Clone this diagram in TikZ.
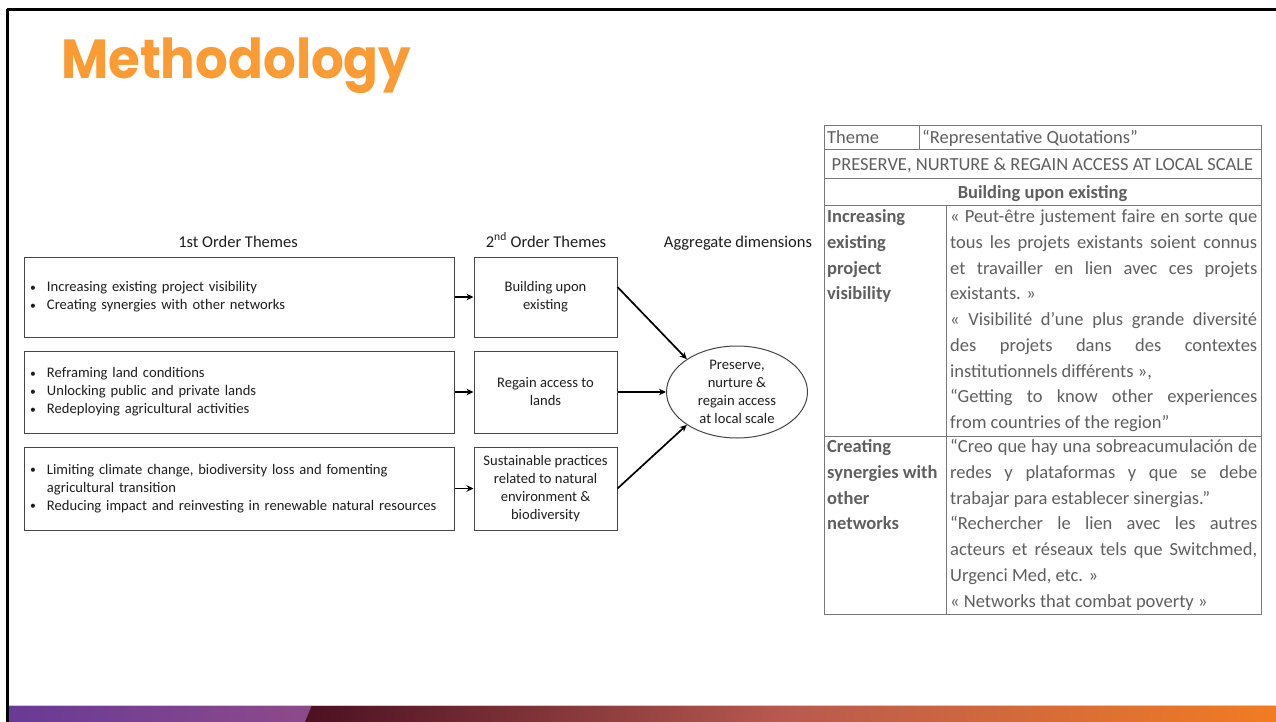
\documentclass[tikz,border=0pt]{standalone}
\usepackage{fontspec}
\setmainfont{Carlito}
\newfontfamily\titlefont{Poppins}
\usetikzlibrary{shapes.geometric,arrows.meta}
\definecolor{titleorange}{RGB}{250,155,52}
\definecolor{diagtext}{RGB}{30,30,30}
\definecolor{boxline}{RGB}{70,70,70}
\definecolor{tabtext}{RGB}{95,95,95}
\definecolor{tabline}{RGB}{120,120,120}
\definecolor{barpurpleA}{RGB}{104,58,150}
\definecolor{barpurpleB}{RGB}{142,74,138}
\definecolor{bardark}{RGB}{75,16,34}
\definecolor{barmid}{RGB}{185,90,80}
\definecolor{barorange}{RGB}{242,124,34}
\newcommand{\jline}[1]{\makebox[307pt][s]{#1}}
\newcommand{\bul}{\makebox[17pt][l]{\raisebox{0.5pt}{\scalebox{0.8}{\textbullet}}}}
\begin{document}
\begin{tikzpicture}[x=1pt,y=-1pt,
  box/.style={draw=boxline,line width=1pt,inner sep=0pt,text=diagtext,
    font=\fontsize{14.6}{18}\selectfont},
  leftbox/.style={box,minimum width=430,text width=418,inner xsep=6pt,align=left},
  midbox/.style={box,minimum width=143,align=center},
  header/.style={text=diagtext,font=\fontsize{16.5}{18}\selectfont,anchor=base,inner sep=0pt},
  arr/.style={line width=1.7pt,draw=black,-{Stealth[length=7pt,width=6.5pt]}},
  tab/.style={text=tabtext,font=\fontsize{18.5}{22}\selectfont,inner sep=0pt,anchor=base west},
  tabb/.style={tab,font=\fontsize{18.5}{22}\selectfont\bfseries},
  tabrule/.style={draw=tabline,line width=1pt}]
\useasboundingbox (0,0) rectangle (1276,722);
\fill[white] (0,0) rectangle (1276,722);

% frame
\draw[line width=2.5pt,black] (6.5,9.5) -- (1276,9.5);
\draw[line width=3pt,black] (7.5,9) -- (7.5,722);

% bottom bar
\fill[left color=barpurpleA,right color=barpurpleB] (9,705) -- (312,705) -- (305,722) -- (9,722) -- cycle;
\shade[left color=bardark,right color=barorange,middle color=barmid] (312,705) -- (1276,705) -- (1276,722) -- (305,722) -- cycle;
\draw[line width=0.8pt,color={rgb,255:red,225;green,195;blue,200}] (9,705) -- (1276,705);

% title
\node[anchor=base west,inner sep=0pt,text=titleorange,font=\titlefont\bfseries\fontsize{55}{60}\selectfont] (title) at (61,79) {\scalebox{0.935}[1]{Methodology}};

% headers
\node[header] (h1) at (238,247) {1st Order Themes};
\node[header] (h2) at (546,247) {2\textsuperscript{nd} Order Themes};
\node[header] (h3) at (738,247) {Aggregate dimensions};

% left boxes
\node[leftbox,minimum height=80] (b1) at (239,297) {\bul Increasing existing project visibility\\\bul Creating synergies with other networks};
\node[leftbox,minimum height=82] (b2) at (239,392) {\bul Reframing land conditions\\\bul Unlocking public and private lands\\\bul Redeploying agricultural activities};
\node[leftbox,minimum height=83] (b3) at (239,488.5) {\bul Limiting climate change, biodiversity loss and fomenting\\\hspace*{17pt}agricultural transition\\\bul Reducing impact and reinvesting in renewable natural resources};

% middle boxes
\node[midbox,minimum height=80] (m1) at (545.5,297) {Building upon\\existing};
\node[midbox,minimum height=82] (m2) at (545.5,392) {Regain access to\\lands};
\node[midbox,minimum height=83] (m3) at (545.5,488.5) {Sustainable practices\\related to natural\\environment \&\\biodiversity};

% ellipse
\node[ellipse,box,minimum width=141,minimum height=92,align=center] (ell) at (737,392) {Preserve,\\nurture \&\\regain access\\at local scale};

% arrows
\draw[arr] (b1.east) -- (m1.west);
\draw[arr] (b2.east) -- (m2.west);
\draw[arr] (b3.east) -- (m3.west);
\draw[arr] ([yshift=10pt]m1.east) -- (ell.north west);
\draw[arr] (m2.east) -- (ell.west);
\draw[arr] (m3.east) -- (ell.south west);

% table rules
\draw[tabrule] (824,126) rectangle (1261,614);
\draw[tabrule] (824,150) -- (1261,150);
\draw[tabrule] (824,179) -- (1261,179);
\draw[tabrule] (824,205) -- (1261,205);
\draw[tabrule] (824,436) -- (1261,436);
\draw[tabrule] (919,126) -- (919,150);
\draw[tabrule] (946,205) -- (946,614);

% table header text
\node[tab] (th1) at (827,144) {Theme};
\node[tab] (th2) at (922,144) {“Representative Quotations”};
\node[tab,anchor=base] (th3) at (1042.5,171) {PRESERVE, NURTURE \& REGAIN ACCESS AT LOCAL SCALE};
\node[tabb,anchor=base] (th4) at (1042.5,199) {Building upon existing};

% row labels
\foreach \qy/\qt [count=\i] in {222.5/Increasing,248.25/existing,274/project,299.75/visibility}
  \node[tabb] (la\i) at (827,\qy) {\qt};
\foreach \qy/\qt [count=\i] in {452.5/Creating,478.3/synergies with,504.1/other,529.9/networks}
  \node[tabb] (lb\i) at (827,\qy) {\qt};

% quotations
\foreach \qy/\qt [count=\i] in {
  222.5/{\jline{« Peut-être justement faire en sorte que}},
  248.25/{\jline{tous les projets existants soient connus}},
  274/{\jline{et travailler en lien avec ces projets}},
  299.75/{existants. »},
  325.5/{\jline{« Visibilité d'une plus grande diversité}},
  351.25/{\jline{des projets dans des contextes}},
  377/{institutionnels différents »,},
  402.75/{\jline{“Getting to know other experiences}},
  428.5/{from countries of the region”}}
  \node[tab] (qa\i) at (950,\qy) {\qt};
\foreach \qy/\qt [count=\i] in {
  452.5/{\jline{“Creo que hay una sobreacumulación de}},
  478.3/{\jline{redes y plataformas y que se debe}},
  504.1/{trabajar para establecer sinergias.”},
  529.9/{\jline{“Rechercher le lien avec les autres}},
  555.7/{\jline{acteurs et réseaux tels que Switchmed,}},
  581.5/{Urgenci Med, etc. »},
  607.3/{« Networks that combat poverty »}}
  \node[tab] (qb\i) at (950,\qy) {\qt};
\end{tikzpicture}
\end{document}
